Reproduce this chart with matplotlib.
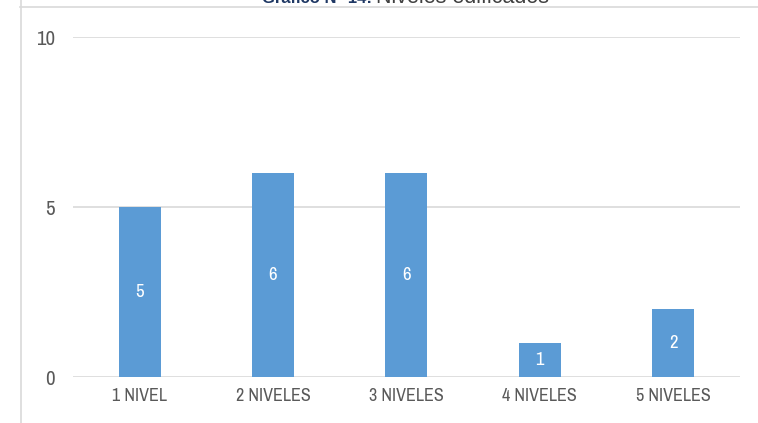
import matplotlib.pyplot as plt
import numpy as np

categorias = ['1 NIVEL', '2 NIVELES', '3 NIVELES', '4 NIVELES', '5 NIVELES']
valores = [5, 6, 6, 1, 2]
yticks = [0, 5, 10]

plt.rcParams['font.family'] = ['Archivo Narrow', 'DejaVu Sans']

fig = plt.figure(figsize=(7.58, 4.23), dpi=100)
ax = fig.add_axes([0.0963, 0.1087, 0.8797, 0.8038])

x = np.arange(len(categorias))
bars = ax.bar(x, valores, width=0.315, color='#5B9BD5', zorder=3)
for b, v in zip(bars, valores):
    ax.text(b.get_x() + b.get_width() / 2, v / 2, str(v), ha='center', va='center',
            color='white', fontsize=13.5, zorder=4)

ax.set_xlim(-0.5, 4.5)
ax.set_ylim(0, 10)
ax.set_yticks(yticks)
ax.set_xticks(x)
ax.set_xticklabels(categorias)
ax.tick_params(axis='both', length=0, colors='#595959')
ax.tick_params(axis='x', labelsize=13, pad=8)
ax.tick_params(axis='y', labelsize=15, pad=13)
ax.grid(axis='y', color='#d9d9d9', linewidth=1.2, zorder=0)
for s in ax.spines.values():
    s.set_visible(False)

# marco del grafico y titulo recortado
fig.add_artist(plt.Line2D([20 / 758, 1], [1 - 7 / 423] * 2, color='#d9d9d9', lw=1.2))
fig.add_artist(plt.Line2D([21 / 758] * 2, [0, 1], color='#d9d9d9', lw=1.2))
t1 = fig.text(262 / 758, 1 - 3 / 423, 'Gráfico N° 14:', fontsize=12, fontweight='bold',
              family='Liberation Sans', color='#1F3864', va='baseline', ha='left')
fig.canvas.draw()
bb = t1.get_window_extent()
fig.text((bb.x1 + 4) / 758, 1 - 3 / 423, 'Niveles edificados', fontsize=15.5,
         family='Liberation Sans', color='#404040', va='baseline', ha='left')

fig.savefig('out.png', dpi=100)
